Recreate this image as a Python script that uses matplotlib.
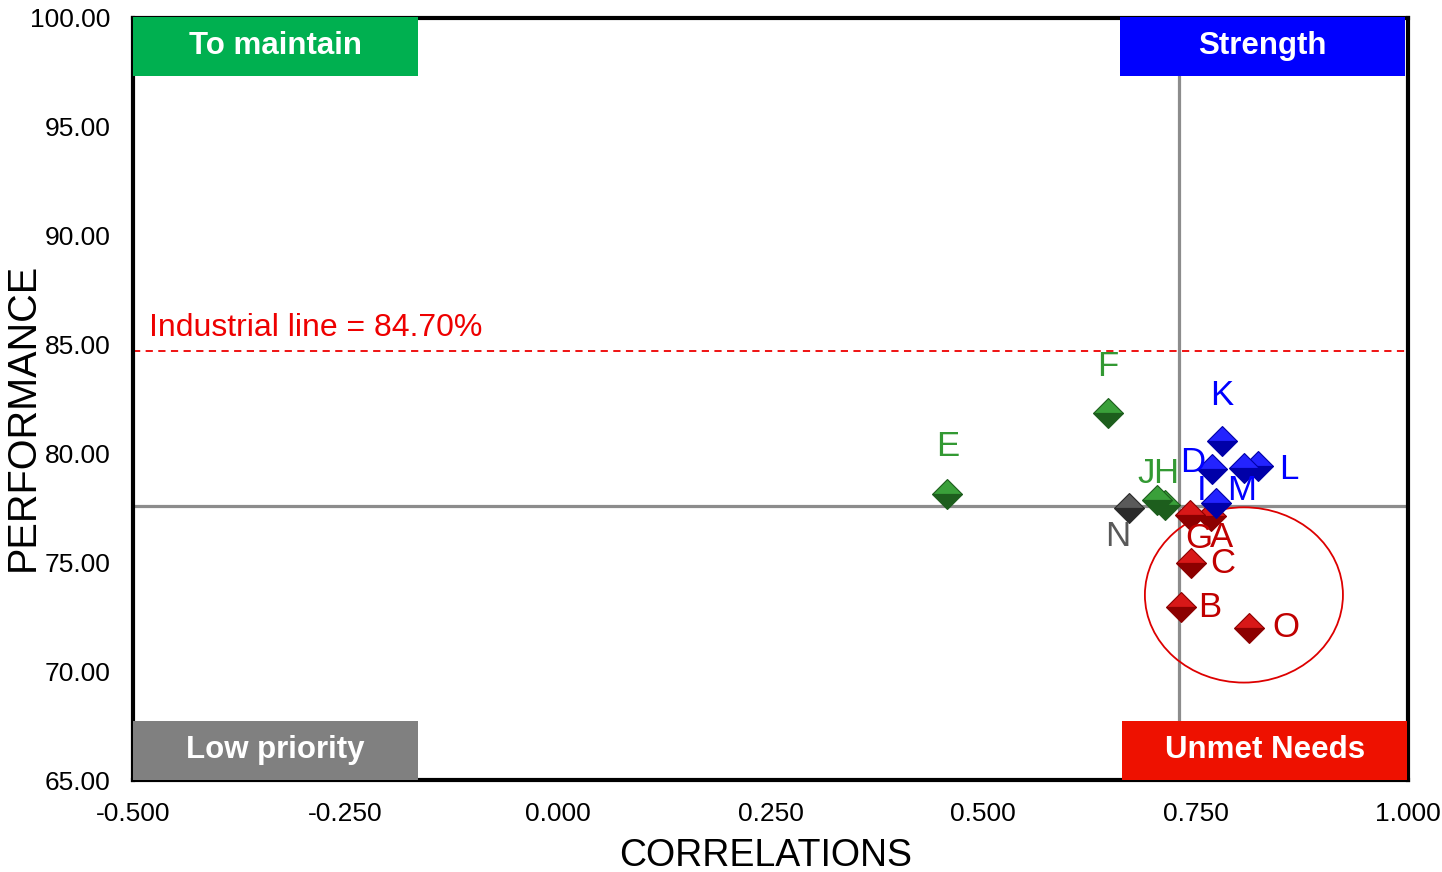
import numpy as np
import matplotlib.pyplot as plt
from matplotlib.patches import Ellipse, Rectangle

plt.rcParams['font.family'] = ['Liberation Sans', 'DejaVu Sans']

# attributes A..O
labels = ["A", "B", "C", "D", "E", "F", "G", "H", "I", "J", "K", "L", "M", "N", "O"]
correlations = [0.768, 0.733, 0.745, 0.770, 0.458, 0.647, 0.743, 0.714, 0.774,
                0.705, 0.781, 0.824, 0.807, 0.672, 0.813]
performance = [77.14, 72.96, 74.98, 79.28, 78.14, 81.86, 77.16, 77.63, 77.71,
               77.86, 80.57, 79.42, 79.31, 77.48, 71.99]
industrial_line = 84.70

x_ticks = [-0.5, -0.25, 0.0, 0.25, 0.5, 0.75, 1.0]
y_ticks = [65, 70, 75, 80, 85, 90, 95, 100]

# label offsets in pixels (dx, dy), dy positive = up
label_offsets = {
    "A": (11, -22), "B": (29, -1), "C": (32, -1), "D": (-20, 7), "E": (0, 47),
    "F": (0, 46), "G": (9, -23), "H": (1, 32), "I": (-14, 13), "J": (-11, 27),
    "K": (0, 46), "L": (30, -3), "M": (-2, -22), "N": (-11, -28), "O": (37, 0),
}

x_mean = np.mean(correlations)
y_mean = np.mean(performance)

fig = plt.figure(figsize=(14.42, 8.72), dpi=100)
ax = fig.add_axes([0.0922, 0.1055, 0.8842, 0.8739])

ax.axvline(x_mean, color="#8c8c8c", lw=2.3, zorder=1)
ax.axhline(y_mean, color="#8c8c8c", lw=2.3, zorder=1)
ax.axhline(industrial_line, color="#ee0000", lw=1.3, ls=(0, (4, 3)), zorder=1)
ax.text(-0.481, industrial_line + 0.35, f"Industrial line = {industrial_line:.2f}%",
        color="#ee0000", fontsize=23, va="bottom", ha="left")

for lab, cx, cy in zip(labels, correlations, performance):
    if cx >= x_mean and cy >= y_mean:
        mc, dark, tc = "#2323ff", "#0000a8", "#0000ff"
    elif cx >= x_mean:
        mc, dark, tc = "#d81818", "#8c0000", "#c00000"
    elif cy >= y_mean:
        mc, dark, tc = "#3aa03a", "#1d5e1d", "#339933"
    else:
        mc, dark, tc = "#5a5a5a", "#2a2a2a", "#595959"
    ax.plot(cx, cy, marker="D", markersize=15, fillstyle="top",
            markerfacecolor=mc, markerfacecoloralt=dark, markeredgecolor=dark,
            markeredgewidth=0.8, zorder=4)
    dx, dy = label_offsets[lab]
    ax.annotate(lab, (cx, cy), xytext=(dx, dy), textcoords="offset pixels",
                ha="center", va="center", fontsize=25, color=tc, zorder=5)

ax.add_patch(Ellipse((0.807, 73.5), 0.233, 8.05, fill=False, ec="#dd0000", lw=1.3, zorder=3))

quadrants = [
    ("To maintain", "#00b050", 0.0, 0.924),
    ("Strength", "#0000ff", 0.774, 0.924),
    ("Low priority", "#808080", 0.0, 0.0),
    ("Unmet Needs", "#ee1100", 0.776, 0.0),
]
for name, color, qx, qy in quadrants:
    ax.add_patch(Rectangle((qx, qy), 0.2235, 0.0775, transform=ax.transAxes,
                           facecolor=color, edgecolor="none", zorder=6, clip_on=False))
    ax.text(qx + 0.2235 / 2, qy + 0.0775 / 2, name, transform=ax.transAxes,
            ha="center", va="center", color="white", fontsize=22.5, fontweight="bold", zorder=7)

ax.set_xlim(-0.5, 1.0)
ax.set_ylim(65, 100)
ax.set_xticks(x_ticks)
ax.set_yticks(y_ticks)
ax.set_xticklabels([f"{v:.3f}" for v in x_ticks])
ax.set_yticklabels([f"{v:.2f}" for v in y_ticks])
ax.tick_params(length=0, labelsize=19)
ax.tick_params(axis="x", pad=16)
ax.tick_params(axis="y", pad=16)
for s in ax.spines.values():
    s.set_linewidth(3)
    s.set_color("black")

# axis titles placed in figure pixels to follow the reference layout
fig.text(766 / 1442, 1 - 856 / 872, "CORRELATIONS", fontsize=27, ha="center", va="center")
fig.text(23 / 1442, 1 - 417 / 872, "PERFORMANCE", fontsize=28.5, ha="center", va="center",
         rotation=90)

fig.savefig("out.png", dpi=100)
